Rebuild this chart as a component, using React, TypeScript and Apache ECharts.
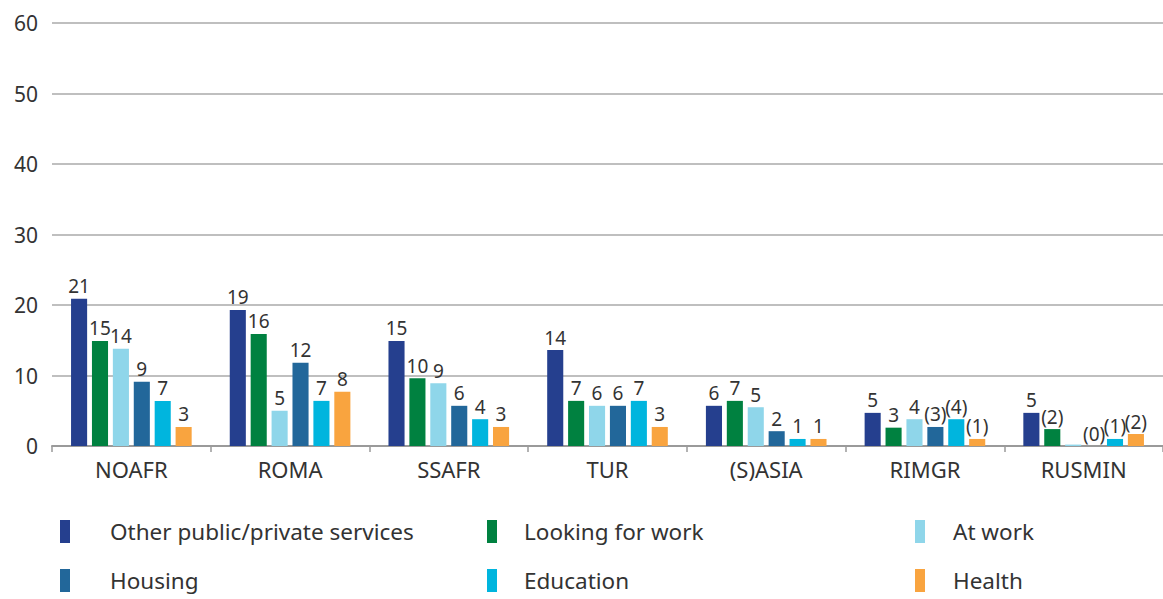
import React, { useEffect, useRef } from "react";
import * as echarts from "echarts";

const categories = ["NOAFR", "ROMA", "SSAFR", "TUR", "(S)ASIA", "RIMGR", "RUSMIN"];
const seriesNames = [
  "Other public/private services",
  "Looking for work",
  "At work",
  "Housing",
  "Education",
  "Health",
];
const colors = ["#253f8e", "#008140", "#8fd6ea", "#22679a", "#00b5de", "#f9a43f"];

const otherServices = [20.9, 19.3, 14.9, 13.6, 5.7, 4.7, 4.7];
const lookingForWork = [14.9, 15.9, 9.6, 6.4, 6.4, 2.6, 2.4];
const atWork = [13.8, 5.0, 8.9, 5.7, 5.5, 3.8, 0.2];
const housing = [9.1, 11.8, 5.7, 5.7, 2.1, 2.7, 0];
const education = [6.4, 6.4, 3.8, 6.4, 1.0, 3.8, 1.0];
const health = [2.7, 7.7, 2.7, 2.7, 1.0, 1.0, 1.7];

const otherLabels = ["21", "19", "15", "14", "6", "5", "5"];
const lookingLabels = ["15", "16", "10", "7", "7", "3", "(2)"];
const atWorkLabels = ["14", "5", "9", "6", "5", "4", ""];
const housingLabels = ["9", "12", "6", "6", "2", "(3)", "(0)"];
const educationLabels = ["7", "7", "4", "7", "1", "(4)", "(1)"];
const healthLabels = ["3", "8", "3", "3", "1", "(1)", "(2)"];

const yTicks = { min: 0, max: 60, interval: 10 };

const FONT = "'Noto Sans', 'Open Sans', sans-serif";

export default function App() {
  const ref = useRef<HTMLDivElement>(null);
  useEffect(() => {
    if (!ref.current) return;
    const chart = echarts.init(ref.current, undefined, { renderer: "svg" });
    const values = [otherServices, lookingForWork, atWork, housing, education, health];
    const labels = [otherLabels, lookingLabels, atWorkLabels, housingLabels, educationLabels, healthLabels];

    const legendPos = [
      { left: 60, top: 520, pad: 35 },
      { left: 487, top: 520, pad: 22 },
      { left: 915, top: 520, pad: 23 },
      { left: 60, top: 569, pad: 35 },
      { left: 487, top: 569, pad: 22 },
      { left: 915, top: 569, pad: 23 },
    ];

    const option: any = {
      animation: false,
      textStyle: { fontFamily: FONT },
      grid: { left: 52, top: 23, width: 1120, height: 423 },
      legend: seriesNames.map((n, i) => ({
        data: [n],
        left: legendPos[i].left,
        top: legendPos[i].top,
        padding: 0,
        itemWidth: 10,
        itemHeight: 23,
        icon: "rect",
        selectedMode: false,
        textStyle: {
          fontFamily: FONT,
          fontSize: 22.5,
          lineHeight: 22,
          color: "#333",
          padding: [0, 0, 0, legendPos[i].pad],
        },
      })),
      xAxis: {
        type: "category",
        data: categories,
        axisLine: { lineStyle: { color: "#9a9a9a", width: 2 } },
        axisTick: { show: true, length: 6, lineStyle: { color: "#9a9a9a", width: 1.5 } },
        axisLabel: { fontSize: 22, color: "#333", margin: 12, fontFamily: FONT },
      },
      yAxis: {
        type: "value",
        min: yTicks.min,
        max: yTicks.max,
        interval: yTicks.interval,
        axisLine: { show: false },
        axisTick: { show: false },
        axisLabel: { fontSize: 21, color: "#333", margin: 14, fontFamily: FONT },
        splitLine: { lineStyle: { color: "#aaaaaa", width: 1.5 } },
      },
      series: seriesNames.map((name, i) => ({
        name,
        type: "bar",
        data: values[i],
        barGap: "30%",
        barCategoryGap: "24%",
        itemStyle: { color: colors[i] },
        label: {
          show: true,
          position: "top",
          distance: 3,
          fontSize: 19,
          color: "#333",
          fontFamily: FONT,
          formatter: (p: any) => labels[i][p.dataIndex],
        },
      })),
    };
    chart.setOption(option);
    return () => chart.dispose();
  }, []);
  return (
    <div
      ref={ref}
      style={{ position: "fixed", left: 0, top: 0, width: 1163, height: 599, background: "#fff" }}
    />
  );
}
